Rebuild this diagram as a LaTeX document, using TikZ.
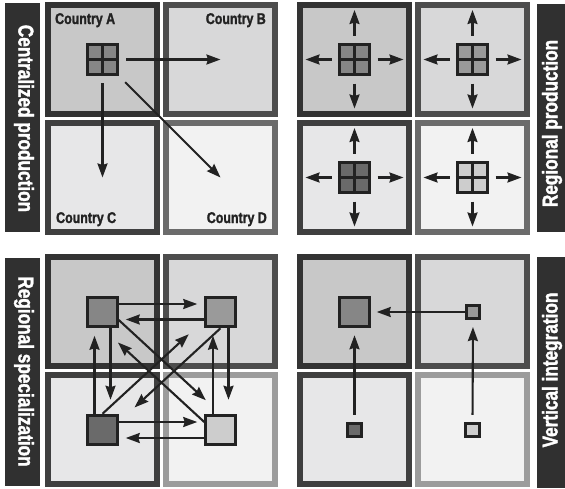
\documentclass[tikz,border=0pt]{standalone}
\usepackage{fontspec}
\setmainfont{Liberation Sans}[FakeStretch=0.8, BoldFeatures={FakeBold=1.6}]
\usetikzlibrary{arrows.meta}
\definecolor{fA}{HTML}{C8C8C8}
\definecolor{fB}{HTML}{D8D8D9}
\definecolor{fC}{HTML}{E7E7E8}
\definecolor{fD}{HTML}{F2F2F2}
\definecolor{bA}{HTML}{333333}
\definecolor{bB}{HTML}{4D4D4D}
\definecolor{bC}{HTML}{3F3F3F}
\definecolor{bD}{HTML}{6B6B6B}
\definecolor{bDl}{HTML}{9C9C9C}
\definecolor{edge}{HTML}{222222}
\definecolor{barc}{HTML}{303030}
\definecolor{cA}{HTML}{868686}
\definecolor{cB}{HTML}{9A9A9A}
\definecolor{cC}{HTML}{6A6A6A}
\definecolor{cD}{HTML}{CDCDCD}
\begin{document}
\begin{tikzpicture}[x=1pt,y=-1pt,
  panel/.style={draw, line width=6pt, minimum size=109pt, inner sep=0pt},
  icon/.style={draw=edge, line width=3.2pt, minimum size=30pt, inner sep=0pt},
  sq/.style={draw=edge, line width=3pt, minimum size=29.5pt, inner sep=0pt},
  smallsq/.style={draw=edge, line width=2.6pt, minimum size=13.5pt, inner sep=0pt},
  cross/.style={draw=edge, line width=2.8pt},
  arr/.style={line width=2.1pt, draw=edge, -{Stealth[length=14pt,width=10pt,inset=1.5pt]}},
  bar/.style={fill=barc, inner sep=0pt},
  bartext/.style={text=white, inner sep=0pt, font=\fontsize{21.5}{21.5}\selectfont\bfseries},
  ctry/.style={font=\fontsize{15.5}{15.5}\selectfont\bfseries, inner sep=0pt, text=edge}
]
\useasboundingbox (0,0) rectangle (565,488);
% ---------- label bars ----------
\node[bar, minimum width=35pt, minimum height=229pt] (bar1) at (22.5,117.5) {};
\node[bartext, rotate=-90] (t1) at (24,118.5) {Centralized production};
\node[bar, minimum width=30pt, minimum height=228pt] (bar2) at (552,118) {};
\node[bartext, rotate=90] (t2) at (552,123.5) {Regional production};
\node[bar, minimum width=35pt, minimum height=228pt] (bar3) at (22.5,372) {};
\node[bartext, rotate=-90] (t3) at (24,371.5) {Regional specialization};
\node[bar, minimum width=30pt, minimum height=231pt] (bar4) at (552,372.5) {};
\node[bartext, rotate=90] (t4) at (552,370) {Vertical integration};
% ---------- group 1: centralized production ----------
\node[panel, fill=fA, draw=bA] (p1a) at (102.5,59.5) {};
\node[panel, fill=fB, draw=bB] (p1b) at (220.5,59.5) {};
\node[panel, fill=fC, draw=bC] (p1c) at (102.5,177.5) {};
\node[panel, fill=fD, draw=bD] (p1d) at (220.5,177.5) {};
\node[ctry, anchor=base west] (la) at (55,24) {Country A};
\node[ctry, anchor=base east] (lb) at (266,24) {Country B};
\node[ctry, anchor=base west] (lc) at (56,223) {Country C};
\node[ctry, anchor=base east] (ld) at (267,223) {Country D};
\node[icon, fill=cA] (i1) at (102.5,59.5) {};
\draw[cross] (i1.north) -- (i1.south);
\draw[cross] (i1.west) -- (i1.east);
\draw[arr, shorten <=23.5pt] (i1.center) -- (p1b.center);
\draw[arr, shorten <=23.5pt] (i1.center) -- (p1c.center);
\draw[arr, shorten <=32pt] (i1.center) -- (p1d.center);
% ---------- group 2: regional production ----------
\node[panel, fill=fA, draw=bA] (p2a) at (354.5,59.5) {};
\node[panel, fill=fB, draw=bB] (p2b) at (472.5,59.5) {};
\node[panel, fill=fC, draw=bC] (p2c) at (354.5,177.5) {};
\node[panel, fill=fD, draw=bD] (p2d) at (472.5,177.5) {};
\node[icon, fill=cA] (i2a) at (354.5,59.5) {};
\node[icon, fill=cB] (i2b) at (472.5,59.5) {};
\node[icon, fill=cC] (i2c) at (354.5,177.5) {};
\node[icon, fill=cD] (i2d) at (472.5,177.5) {};
\foreach \n in {i2a,i2b,i2c,i2d}{
  \draw[cross] (\n.north) -- (\n.south);
  \draw[cross] (\n.west) -- (\n.east);
  \draw[arr, shorten <=23pt] (\n.center) -- ++(49,0);
  \draw[arr, shorten <=23pt] (\n.center) -- ++(-49,0);
  \draw[arr, shorten <=24pt] (\n.center) -- ++(0,-49.5);
  \draw[arr, shorten <=24pt] (\n.center) -- ++(0,49);
}
% ---------- group 3: regional specialization ----------
\node[panel, fill=fA, draw=bA] (p3a) at (102.5,311.5) {};
\node[panel, fill=fB, draw=bB] (p3b) at (220.5,311.5) {};
\node[panel, fill=fC, draw=bC] (p3c) at (102.5,429.5) {};
\node[panel, fill=fD, draw=bDl] (p3d) at (220.5,429.5) {};
\node[sq, fill=cA] (s1) at (102.5,312) {};
\node[sq, fill=cB] (s2) at (220.5,312) {};
\node[sq, fill=cC] (s3) at (102.5,430) {};
\node[sq, fill=cD] (s4) at (220.5,430) {};
\draw[arr, shorten >=7pt] ([yshift=8pt]s1.east) -- ([yshift=8pt]s2.west);
\draw[arr, shorten >=7pt] ([yshift=-7.5pt]s2.west) -- ([yshift=-7.5pt]s1.east);
\draw[arr, shorten >=7pt] ([yshift=8pt]s3.east) -- ([yshift=8pt]s4.west);
\draw[arr, shorten >=7pt] ([yshift=-8pt]s4.west) -- ([yshift=-8pt]s3.east);
\draw[arr, shorten >=7.5pt] ([xshift=-8pt]s3.north) -- ([xshift=-8pt]s1.south);
\draw[arr, shorten >=14pt] ([xshift=8pt]s1.south) -- ([xshift=8pt]s3.north);
\draw[arr, shorten >=7.5pt] ([xshift=-7.5pt]s4.north) -- ([xshift=-7.5pt]s2.south);
\draw[arr, shorten >=14pt] ([xshift=8pt]s2.south) -- ([xshift=8pt]s4.north);
\draw[arr, shorten >=20pt] ([yshift=-8pt]s1.east) -- (s4.north);
\draw[arr, shorten >=21pt] ([yshift=8pt]s4.west) -- (s1.south);
\draw[arr, shorten >=21pt] (s3.north) -- ([yshift=-8pt]s2.west);
\draw[arr, shorten >=21.5pt] (s2.south) -- ([yshift=8pt]s3.east);
% ---------- group 4: vertical integration ----------
\node[panel, fill=fA, draw=bA] (p4a) at (354.5,311.5) {};
\node[panel, fill=fB, draw=bB] (p4b) at (472.5,311.5) {};
\node[panel, fill=fC, draw=bC] (p4c) at (354.5,429.5) {};
\node[panel, fill=fD, draw=bDl] (p4d) at (472.5,429.5) {};
\node[sq, fill=cA] (v1) at (354.5,312) {};
\node[smallsq, fill=cB] (v2) at (473,312) {};
\node[smallsq, fill=cC] (v3) at (354.5,430) {};
\node[smallsq, fill=cD] (v4) at (472.5,430) {};
\draw[arr, shorten >=6pt] (v2.west) -- (v1.east);
\draw[arr, shorten <=7pt, shorten >=7pt] (v3.north) -- (v1.south);
\draw[arr, shorten <=7pt, shorten >=7pt] (v4.north) -- (v2.south);
\end{tikzpicture}
\end{document}
